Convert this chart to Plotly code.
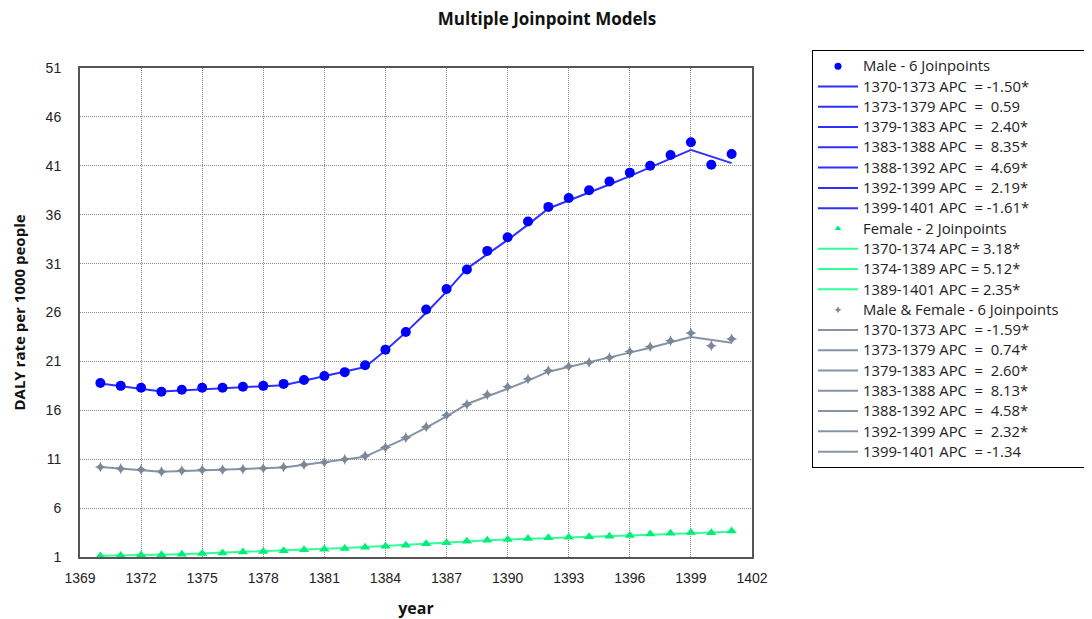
import plotly.graph_objects as go

years = list(range(1370, 1402))

male_obs = [18.8, 18.5, 18.3, 17.9, 18.1, 18.3, 18.3, 18.4, 18.5, 18.7,
            19.1, 19.5, 19.9, 20.6, 22.2, 24.0, 26.3, 28.4, 30.4, 32.3,
            33.7, 35.3, 36.8, 37.7, 38.5, 39.4, 40.3, 41.0, 42.1, 43.4,
            41.1, 42.2]
male_fit = [18.75, 18.47, 18.19, 17.92, 18.03, 18.13, 18.24, 18.35, 18.46, 18.57,
            19.02, 19.47, 19.94, 20.42, 22.12, 23.97, 25.97, 28.14, 30.49, 31.92,
            33.42, 34.99, 36.63, 37.43, 38.25, 39.09, 39.95, 40.82, 41.72, 42.63,
            41.94, 41.27]

female_obs = [1.1, 1.15, 1.2, 1.23, 1.28, 1.35, 1.42, 1.5, 1.57, 1.65,
              1.75, 1.8, 1.88, 2.0, 2.1, 2.2, 2.35, 2.45, 2.6, 2.72,
              2.8, 2.9, 2.97, 3.03, 3.08, 3.12, 3.2, 3.35, 3.42, 3.5,
              3.48, 3.65]
female_fit = [1.14, 1.18, 1.21, 1.25, 1.29, 1.36, 1.43, 1.50, 1.57, 1.65,
              1.74, 1.83, 1.92, 2.02, 2.12, 2.23, 2.35, 2.47, 2.59, 2.72,
              2.78, 2.85, 2.92, 2.98, 3.05, 3.12, 3.20, 3.27, 3.35, 3.43,
              3.51, 3.59]

both_obs = [10.2, 10.03, 9.93, 9.72, 9.83, 9.9, 9.93, 10.0, 10.07, 10.2,
            10.44, 10.68, 10.99, 11.33, 12.2, 13.2, 14.3, 15.5, 16.6, 17.6,
            18.4, 19.2, 20.05, 20.5, 20.9, 21.4, 22.0, 22.5, 23.1, 23.9,
            22.6, 23.3]
both_fit = [10.2, 10.04, 9.88, 9.72, 9.79, 9.86, 9.94, 10.01, 10.08, 10.16,
            10.42, 10.70, 10.97, 11.26, 12.17, 13.16, 14.23, 15.39, 16.64, 17.40,
            18.20, 19.04, 19.95, 20.42, 20.90, 21.40, 21.90, 22.40, 22.95, 23.50,
            23.20, 22.90]

male_joins = [1370, 1373, 1379, 1383, 1388, 1392, 1399, 1401]
male_apc = ["-1.50*", " 0.59", " 2.40*", " 8.35*", " 4.69*", " 2.19*", "-1.61*"]
female_joins = [1370, 1374, 1389, 1401]
female_apc = ["3.18*", "5.12*", "2.35*"]
both_joins = [1370, 1373, 1379, 1383, 1388, 1392, 1399, 1401]
both_apc = ["-1.59*", " 0.74*", " 2.60*", " 8.13*", " 4.58*", " 2.32*", "-1.34"]

series = [
    dict(name="Male - 6 Joinpoints", obs=male_obs, fit=male_fit, joins=male_joins, apc=male_apc,
         mcolor="#0000ff", lcolor="#2f2fff",
         symbol="circle", msize=10, lsize=7, eq="  = "),
    dict(name="Female - 2 Joinpoints", obs=female_obs, fit=female_fit, joins=female_joins, apc=female_apc,
         mcolor="#00ee77", lcolor="#33ff99",
         symbol="triangle-up", msize=9, lsize=6, eq=" = "),
    dict(name="Male & Female - 6 Joinpoints", obs=both_obs, fit=both_fit, joins=both_joins, apc=both_apc,
         mcolor="#7a8899", lcolor="#8494a4",
         symbol="star-diamond", msize=8, lsize=5, eq="  = "),
]

NB = "\u00a0"


def legtext(t, pad=0):
    return '<span style="font-size:14.8px">' + t.replace(" ", NB) + NB * pad + "</span>"


fig = go.Figure()
for s in series:
    pad = 7 if s["name"].startswith("Male &") else 0
    fig.add_trace(go.Scatter(
        x=[None], y=[None], mode="markers", name=legtext(s["name"], pad),
        marker=dict(color=s["mcolor"], symbol=s["symbol"], size=s["lsize"], line=dict(width=0)),
    ))
    for i in range(len(s["joins"]) - 1):
        a, b = s["joins"][i], s["joins"][i + 1]
        xs = [y for y in years if a <= y <= b]
        ys = [s["fit"][years.index(y)] for y in xs]
        label = f"{a}-{b} APC{s['eq']}{s['apc'][i]}"
        fig.add_trace(go.Scatter(
            x=xs, y=ys, mode="lines", name=legtext(label),
            line=dict(color=s["lcolor"], width=2),
        ))

for s in series:
    fig.add_trace(go.Scatter(
        x=years, y=s["obs"], mode="markers", showlegend=False,
        marker=dict(color=s["mcolor"], symbol=s["symbol"], size=s["msize"], line=dict(width=0)),
    ))

W, H = 1084, 611  # page body has an 8px margin
axis_font = dict(family="Liberation Sans, Arial", size=14, color="#222")
grid = dict(showgrid=True, gridcolor="#8c8c8c", griddash="1px,1px", gridwidth=1)
fig.update_layout(
    width=W, height=H,
    margin=dict(l=72, r=340, t=60, b=62, autoexpand=False),
    paper_bgcolor="white", plot_bgcolor="white",
    title=dict(text="<b>Multiple Joinpoint Models</b>", x=539 / W, xref="container", xanchor="center",
               y=1 - 11 / H, yref="container", yanchor="middle",
               font=dict(family="Open Sans, Noto Sans", size=17, color="#111")),
    xaxis=dict(range=[1369, 1402], tick0=1369, dtick=3, tickmode="linear", **grid,
               showline=True, linecolor="#555", linewidth=2, mirror=True, automargin=False,
               zeroline=False, ticks="", ticklabelstandoff=7, tickfont=axis_font,
               title=dict(text="<b>year</b>", standoff=19,
                          font=dict(family="Open Sans, Noto Sans", size=16, color="#111"))),
    yaxis=dict(range=[1, 51], tick0=1, dtick=5, tickmode="linear", **grid,
               showline=True, linecolor="#555", linewidth=2, mirror=True, automargin=False,
               zeroline=False, ticks="", ticklabelstandoff=14, tickfont=axis_font,
               title=dict(text="<b>DALY rate per 1000 people</b>", standoff=16,
                          font=dict(family="Open Sans, Noto Sans", size=15, color="#111"))),
    legend=dict(x=(812 - 80) / 672, y=1 + (557 - 50 - 489) / 489, xanchor="left", yanchor="top",
                bordercolor="#000", borderwidth=1, bgcolor="white",
                font=dict(family="Open Sans, Noto Sans", size=13.3, color="#222"),
                itemwidth=40, tracegroupgap=0, maxheight=600),
    showlegend=True,
)

fig.write_html("out.html")
